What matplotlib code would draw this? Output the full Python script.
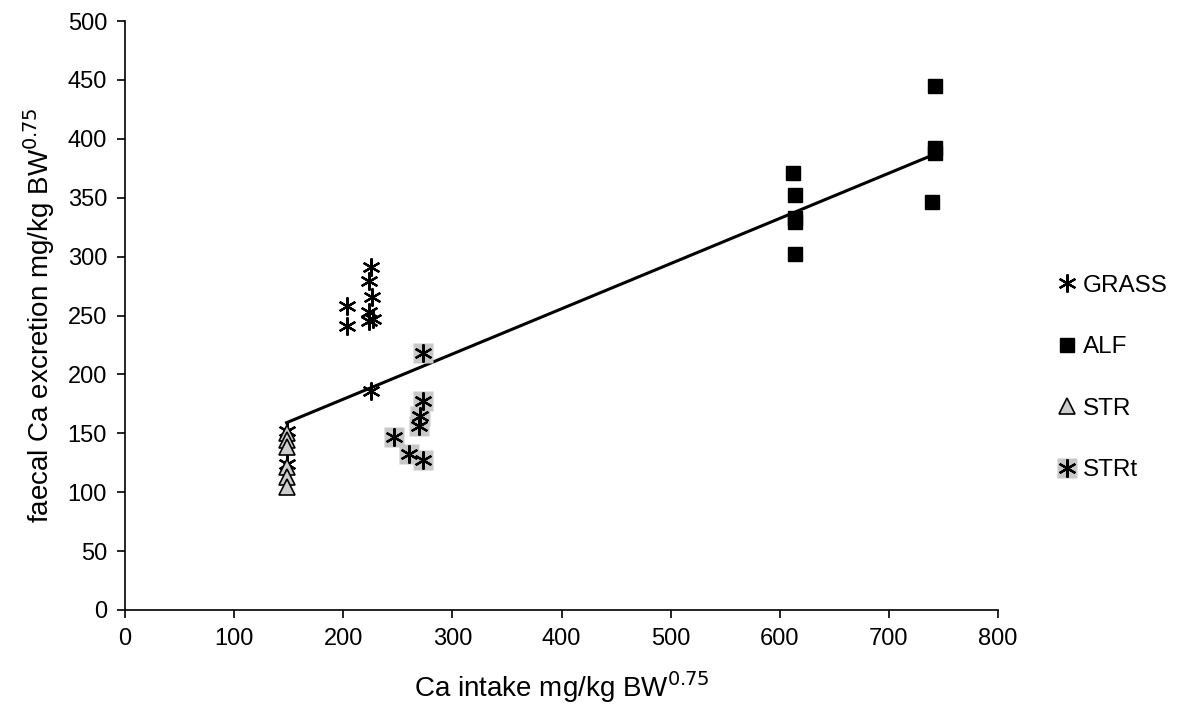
import matplotlib
matplotlib.use('Agg')
from matplotlib import pyplot as plt

plt.rcParams['font.family'] = ['Liberation Sans', 'DejaVu Sans']

# GRASS
grass_x = [203, 203, 225, 224, 226, 224, 227, 225, 224, 148, 148]
grass_y = [258, 241, 291, 279, 266, 253, 247, 186, 245, 152, 124]

# ALF
alf_x = [612, 614, 614, 614, 614, 742, 742, 742, 739]
alf_y = [371, 352, 333, 329, 302, 445, 392, 388, 346]

# STR
str_x = [148, 148, 148, 148, 148, 148]
str_y = [150, 144, 138, 121, 113, 104]

# STRt
strt_x = [273, 273, 270, 269, 246, 260, 273]
strt_y = [218, 177, 165, 156, 147, 132, 127]

# regression line end points
fit_x = [148, 742]
fit_y = [159, 387]

star = (6, 2, 0)

fig = plt.figure(figsize=(11.83, 7.27), dpi=100)
ax = fig.add_axes([0.1057, 0.161, 0.738, 0.81])

ax.plot(fit_x, fit_y, color='black', lw=2.2, zorder=2)

h_grass, = ax.plot(grass_x, grass_y, linestyle='', marker=star, ms=13,
                   mec='black', mew=1.6, zorder=3)
h_alf, = ax.plot(alf_x, alf_y, linestyle='', marker='s', ms=10.5,
                 mfc='black', mec='black', zorder=3)
h_str, = ax.plot(str_x, str_y, linestyle='', marker='^', ms=11,
                 mfc='#cccccc', mec='black', mew=1.2, zorder=3)
h_strt_bg, = ax.plot(strt_x, strt_y, linestyle='', marker='s', ms=15,
                     mfc='#c8c8c8', mec='none', zorder=2.5)
h_strt, = ax.plot(strt_x, strt_y, linestyle='', marker=star, ms=13,
                  mec='black', mew=1.6, zorder=3)

ax.set_xlim(0, 800)
ax.set_ylim(0, 500)
ax.set_xticks(range(0, 801, 100))
ax.set_yticks(range(0, 501, 50))
ax.spines['top'].set_visible(False)
ax.spines['right'].set_visible(False)
ax.spines['left'].set_linewidth(1.2)
ax.spines['bottom'].set_linewidth(1.2)
ax.tick_params(direction='out', length=6, width=1.2, labelsize=17, pad=7)

ax.set_xlabel('Ca intake mg/kg BW$^{0.75}$', fontsize=20, labelpad=14)
ax.set_ylabel('faecal Ca excretion mg/kg BW$^{0.75}$', fontsize=20, labelpad=8)

fig.legend([h_grass, h_alf, h_str, (h_strt_bg, h_strt)],
           ['GRASS', 'ALF', 'STR', 'STRt'],
           loc='upper left', bbox_to_anchor=(0.874, 0.652),
           frameon=False, fontsize=17.5, labelspacing=1.62,
           handlelength=0.9, handletextpad=0.2, markerscale=1.0)

fig.savefig('out.png', dpi=100)
